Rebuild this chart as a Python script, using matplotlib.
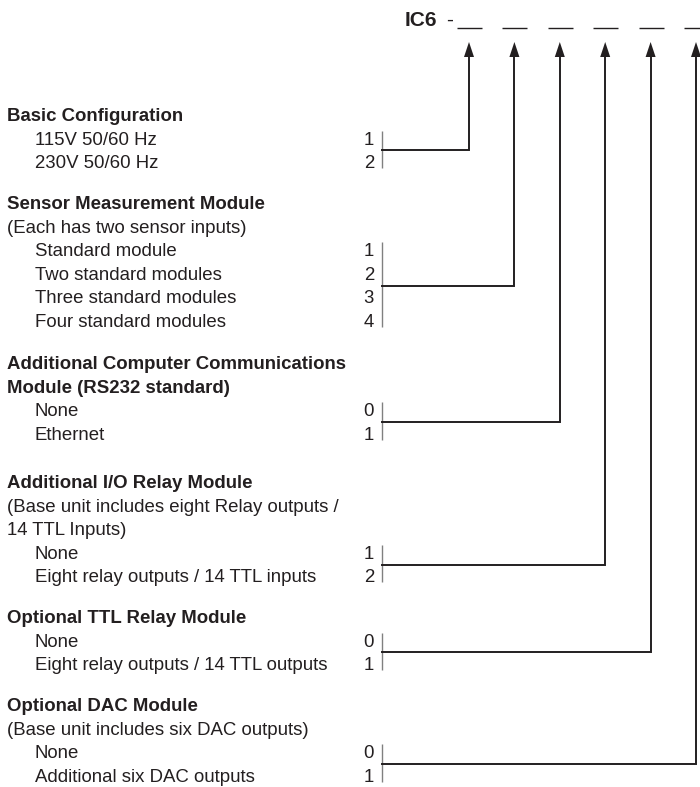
import matplotlib.pyplot as plt

# ordering code groups: header lines, sub-header lines, options, codes
headers = [
    ["Basic Configuration"],
    ["Sensor Measurement Module"],
    ["Additional Computer Communications", "Module (RS232 standard)"],
    ["Additional I/O Relay Module"],
    ["Optional TTL Relay Module"],
    ["Optional DAC Module"],
]
notes = [
    [],
    ["(Each has two sensor inputs)"],
    [],
    ["(Base unit includes eight Relay outputs /", "14 TTL Inputs)"],
    [],
    ["(Base unit includes six DAC outputs)"],
]
options = [
    ["115V 50/60 Hz", "230V 50/60 Hz"],
    ["Standard module", "Two standard modules", "Three standard modules", "Four standard modules"],
    ["None", "Ethernet"],
    ["None", "Eight relay outputs / 14 TTL inputs"],
    ["None", "Eight relay outputs / 14 TTL outputs"],
    ["None", "Additional six DAC outputs"],
]
codes = [
    ["1", "2"],
    ["1", "2", "3", "4"],
    ["0", "1"],
    ["1", "2"],
    ["0", "1"],
    ["0", "1"],
]
prefix = "IC6"

# layout (pixels, y down)
group_top = [115, 203, 363, 482, 617, 705]
step = 23.6
slot_x0 = 469
slot_dx = 45.4
code_x = 374
brk_x = 382
ink = "#231f20"
fs = 13.4
dy = 1.5  # text nudge so caps sit on the row centre

plt.rcParams["font.family"] = ["Liberation Sans", "DejaVu Sans"]
fig = plt.figure(figsize=(7, 7.87), dpi=100)
ax = fig.add_axes([0, 0, 1, 1])
ax.set_xlim(0, 700)
ax.set_ylim(787, 0)
ax.axis("off")

# header code
ax.text(405, 20, prefix, fontsize=15, fontweight="bold", color=ink, va="center", ha="left")
ax.text(446, 20, "-", fontsize=15, color=ink, va="center", ha="left")

for g in range(len(headers)):
    y = group_top[g]
    for h in headers[g]:
        ax.text(7, y + dy, h, fontsize=fs, fontweight="bold", color=ink, va="center", ha="left")
        y += step
    for n in notes[g]:
        ax.text(7, y + dy, n, fontsize=fs, color=ink, va="center", ha="left")
        y += step
    ys = []
    for opt, c in zip(options[g], codes[g]):
        ax.text(35, y + dy, opt, fontsize=fs, color=ink, va="center", ha="left")
        ax.text(code_x, y + dy, c, fontsize=fs, color=ink, va="center", ha="right")
        ys.append(y)
        y += step

    # bracket and connector
    sx = slot_x0 + g * slot_dx
    ymid = (ys[0] + ys[-1]) / 2
    ax.plot([brk_x, brk_x], [ys[0] - 8, ys[-1] + 6], color="#808080", lw=1.0, solid_capstyle="butt")
    ax.plot([brk_x, sx, sx], [ymid, ymid, 56], color=ink, lw=1.4, solid_joinstyle="miter")
    ax.fill([sx - 5, sx, sx + 5], [57, 42, 57], color=ink, lw=0)

    # blank slot
    ax.plot([sx - 12, sx + 13], [28, 28], color=ink, lw=1.0, solid_capstyle="butt")

fig.savefig("out.png", dpi=100, facecolor="white")
